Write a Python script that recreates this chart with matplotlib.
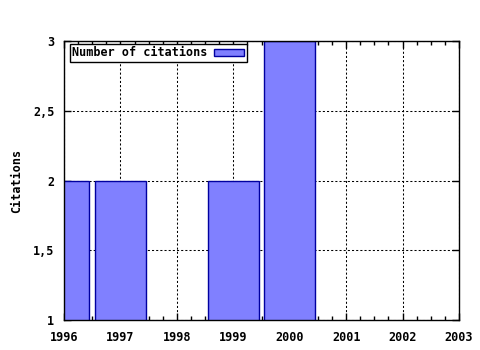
import numpy as np
import matplotlib.pyplot as plt
from matplotlib.ticker import MultipleLocator

years = [1996, 1997, 1999, 2000]
citations = [2, 2, 2, 3]
x_ticks = [1996, 1997, 1998, 1999, 2000, 2001, 2002, 2003]
y_ticks = [1, 1.5, 2, 2.5, 3]
y_labels = ["1", "1,5", "2", "2,5", "3"]

plt.rcParams['font.family'] = ['DejaVu Sans Mono']
plt.rcParams['font.weight'] = 'bold'
plt.rcParams['axes.labelweight'] = 'bold'
plt.rcParams['font.size'] = 8.5

fig = plt.figure(figsize=(4.8, 3.5), dpi=100)
ax = fig.add_axes([64 / 480, 30 / 350, 395 / 480, 279 / 350])

ax.bar(years, citations, width=0.9, bottom=0, color='#8080ff',
       edgecolor='#0000a0', linewidth=1, label='Number of citations', zorder=2)

ax.set_xlim(1996, 2003)
ax.set_ylim(1, 3)
ax.set_xticks(x_ticks)
ax.set_xticklabels([str(y) for y in x_ticks])
ax.set_yticks(y_ticks)
ax.set_yticklabels(y_labels)
ax.xaxis.set_minor_locator(MultipleLocator(0.25))

ax.tick_params(which='both', direction='in', top=True, right=True)
ax.tick_params(axis='x', pad=8)
ax.tick_params(axis='y', pad=7)
ax.tick_params(which='major', length=5, width=1)
ax.tick_params(which='minor', length=3, width=1)

ax.grid(True, which='major', color='black', linestyle=(0, (2, 2)), linewidth=0.75, zorder=1)
ax.set_axisbelow(True)

for s in ax.spines.values():
    s.set_linewidth(1)
    s.set_zorder(3)

ax.set_ylabel("Citations", labelpad=7)

leg = ax.legend(loc='upper left', bbox_to_anchor=(6 / 395, 1 - 3 / 279), markerfirst=False,
                fancybox=False, framealpha=1, edgecolor='black', borderpad=0.2,
                handlelength=2.6, handleheight=0.5, handletextpad=0.5, borderaxespad=0)
leg.get_frame().set_linewidth(1)

fig.savefig("out.png", dpi=100)
